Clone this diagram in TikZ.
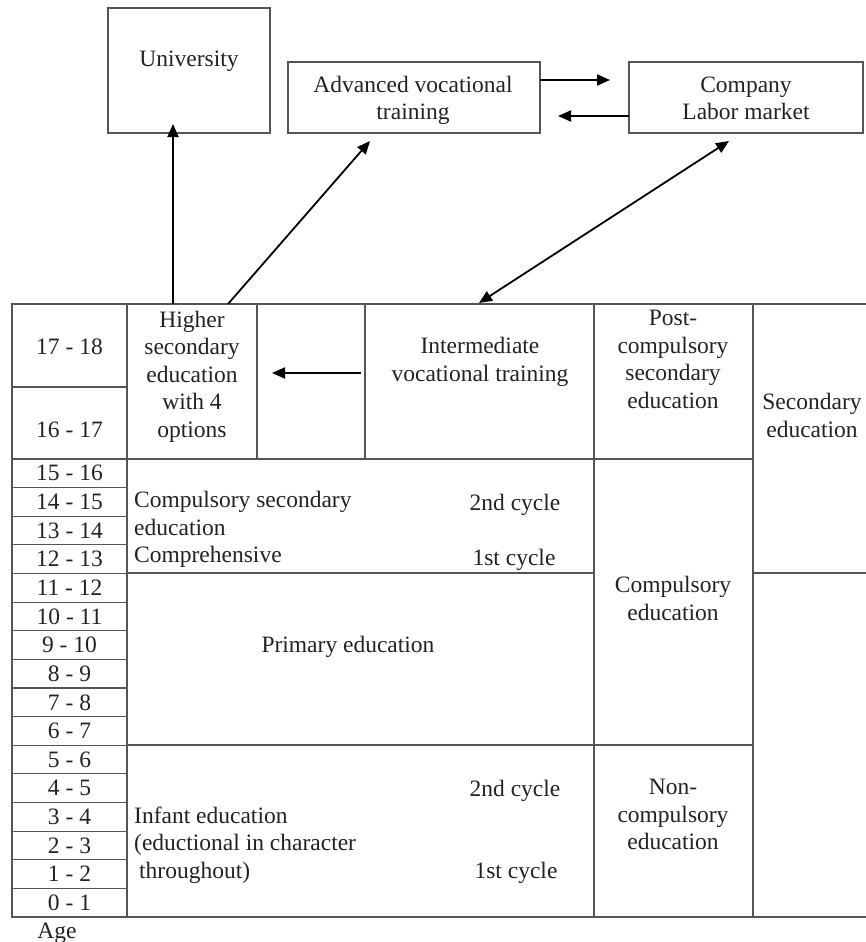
\documentclass[tikz,border=0pt]{standalone}
\usepackage{fontspec}
\setmainfont{Liberation Serif}
\usetikzlibrary{arrows.meta,fit}
\definecolor{gridgray}{HTML}{555555}
\definecolor{inkblack}{HTML}{222222}
\newcommand\diagfont{\fontsize{23.5}{27.5}\selectfont}
\begin{document}
\begin{tikzpicture}[x=1pt,y=-1pt,
  cellbox/.style={draw=gridgray, line width=1.1pt, inner sep=0pt, outer sep=0pt},
  lbl/.style={font=\diagfont, text=inkblack, inner sep=0pt, align=center},
  lbll/.style={font=\diagfont, text=inkblack, inner sep=0pt, align=left, anchor=west},
  arr/.style={draw=black, line width=1.8pt, -{Triangle[length=13pt,width=11pt]}},
  darr/.style={draw=black, line width=1.8pt, {Triangle[length=13pt,width=11pt]}-{Triangle[length=13pt,width=11pt]}}]
\useasboundingbox (0,0) rectangle (866,942);

% upper boxes
\node[cellbox, fit={(108,8) (270,133)}] (uni) {};
\node[cellbox, fit={(288,62) (540,133)}] (adv) {};
\node[cellbox, fit={(629,62) (863,133)}] (company) {};
\node[lbl] (unitxt) at (189,61.5) {University};
\node[lbl] (advtxt) at (413,100.5) {Advanced vocational\\training};
\node[lbl] (comptxt) at (746,98.5) {Company\\Labor market};

% table: upper block (ages 16-18)
\node[cellbox, fit={(12,304) (127,387)}] (a17) {};
\node[cellbox, fit={(12,387) (127,459)}] (a16) {};
\node[cellbox, fit={(127,304) (257,459)}] (hsec) {};
\node[cellbox, fit={(257,304) (365,459)}] (gapcell) {};
\node[cellbox, fit={(365,304) (594,459)}] (ivt) {};
\node[cellbox, fit={(594,304) (753,459)}] (pcs) {};
\node[cellbox, fit={(753,304) (872,573)}] (secd) {};
\node[cellbox, fit={(753,573) (872,917)}] (seclow) {};

% table: lower block
\node[cellbox, fit={(127,459) (594,573)}] (cse) {};
\node[cellbox, fit={(127,573) (594,745)}] (prim) {};
\node[cellbox, fit={(127,745) (594,917)}] (inf) {};
\node[cellbox, fit={(594,459) (753,745)}] (cmp) {};
\node[cellbox, fit={(594,745) (753,917)}] (ncmp) {};

% age rows 0-16
\foreach \i in {0,...,15} {
  \pgfmathtruncatemacro\lo{15-\i}
  \pgfmathtruncatemacro\hi{16-\i}
  \pgfmathsetmacro\top{459+\i*28.625}
  \pgfmathsetmacro\bot{459+(\i+1)*28.625}
  \node[cellbox, fit={(12,\top) (127,\bot)}] (row\lo) {};
  \node[lbl] (rowtxt\lo) at (row\lo.center) {\lo\ - \hi};
}

% cell texts
\node[lbl] (t17) at (69.5,347) {17 - 18};
\node[lbl] (t16) at (69.5,430) {16 - 17};
\node[lbl] (hsectxt) at (192,376.5) {Higher\\secondary\\education\\with 4\\options};
\node[lbl] (ivttxt) at (480,362) {Intermediate\\vocational training};
\node[lbl] (pcstxt) at (673,359.5) {Post-\\compulsory\\secondary\\education};
\node[lbl] (secdtxt) at (812,415.5) {Secondary\\education};
\node[lbll] (csetxt) at (134,529.5) {Compulsory secondary\\education\\Comprehensive};
\node[lbl] (cse2) at (515,504.5) {2nd cycle};
\node[lbl] (cse1) at (514,559.5) {1st cycle};
\node[lbl] (primtxt) at (348,646.5) {Primary education};
\node[lbl] (cmptxt) at (673,598.5) {Compulsory\\education};
\node[lbll] (inftxt) at (134,845) {Infant education\\(eductional in character\\\hspace{5pt}throughout)};
\node[lbl] (inf2) at (515,790.5) {2nd cycle};
\node[lbl] (inf1) at (516,872.5) {1st cycle};
\node[lbl] (ncmptxt) at (673,814.5) {Non-\\compulsory\\education};
\node[lbl] (agetxt) at (57,933.5) {Age};

% connector end points
\coordinate (uniFrom) at (173,304);
\coordinate (uniTo) at (173,124);
\coordinate (advFrom) at (228,304);
\coordinate (advTo) at (370,141);
\coordinate (ivtEnd) at (479,303);
\coordinate (compEnd) at (729,141);
\coordinate (advOut) at (540,80);
\coordinate (compIn) at (610,80);
\coordinate (compOut) at (629,116);
\coordinate (advIn) at (558,116);
\coordinate (ivtOut) at (361,373);
\coordinate (hsecIn) at (272,373);

% connectors
\draw[arr] (uniFrom) -- (uniTo);
\draw[arr] (advFrom) -- (advTo);
\draw[darr] (ivtEnd) -- (compEnd);
\draw[arr] (advOut) -- (compIn);
\draw[arr] (compOut) -- (advIn);
\draw[arr] (ivtOut) -- (hsecIn);
\end{tikzpicture}
\end{document}
